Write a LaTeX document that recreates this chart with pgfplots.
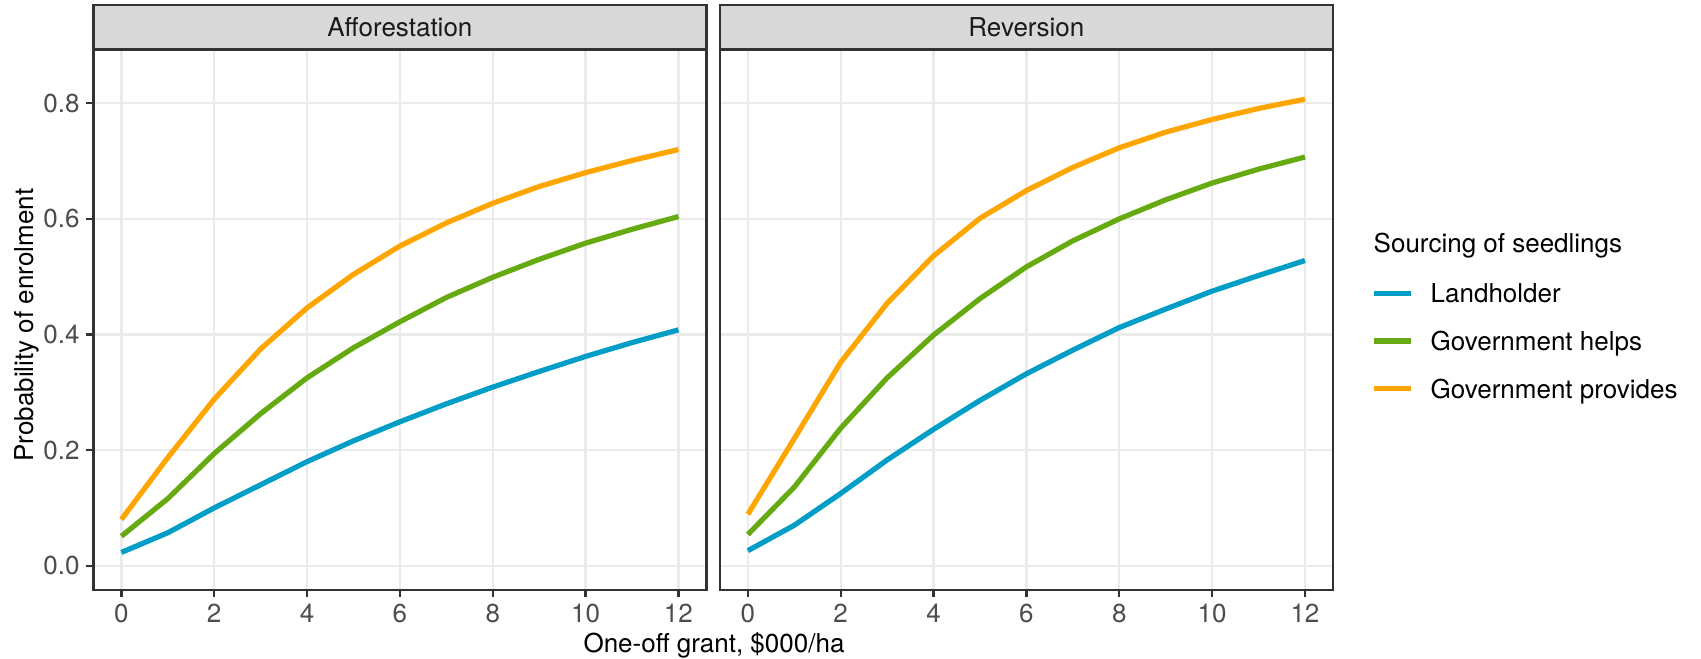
\documentclass[border=0pt]{standalone}
\usepackage{fontspec}
\setmainfont{TeX Gyre Heros}
\usepackage{pgfplots}
\usepackage{pgfplotstable}
\pgfplotsset{compat=1.18}
\definecolor{cland}{RGB}{0,158,198}
\definecolor{chelp}{RGB}{102,170,17}
\definecolor{cprov}{RGB}{255,165,0}
\definecolor{gridc}{HTML}{EBEBEB}
\definecolor{framec}{HTML}{333333}
\definecolor{tickc}{HTML}{4D4D4D}
\definecolor{stripc}{HTML}{D9D9D9}
\definecolor{titlec}{HTML}{1A1A1A}
\newcommand\basefont{\fontsize{13}{15.6}\selectfont}
\newcommand\stripfont{\fontsize{13}{15.6}\selectfont}

\pgfplotstableread{
x land help prov
0 0.023 0.051 0.080
1 0.057 0.116 0.187
2 0.100 0.194 0.288
3 0.140 0.263 0.375
4 0.180 0.325 0.446
5 0.216 0.377 0.504
6 0.249 0.422 0.553
7 0.280 0.464 0.593
8 0.309 0.499 0.627
9 0.336 0.530 0.656
10 0.362 0.558 0.680
11 0.386 0.582 0.701
12 0.408 0.604 0.720
}\afforest

\pgfplotstableread{
x land help prov
0 0.026 0.054 0.089
1 0.070 0.136 0.220
2 0.125 0.238 0.352
3 0.183 0.325 0.454
4 0.236 0.399 0.536
5 0.286 0.462 0.601
6 0.332 0.517 0.649
7 0.373 0.562 0.689
8 0.412 0.600 0.723
9 0.444 0.633 0.750
10 0.475 0.662 0.772
11 0.502 0.686 0.791
12 0.528 0.707 0.807
}\reversion

\pgfplotsset{
  panel/.style={
    scale only axis, width=306.4pt, height=270.25pt,
    xmin=-0.6, xmax=12.6, ymin=-0.042, ymax=0.893,
    xtick={0,2,4,6,8,10,12}, ytick={0,0.2,0.4,0.6,0.8},
    grid=major, major grid style={gridc, line width=1.2pt},
    axis line style={framec, line width=1.2pt},
    tick align=outside, xtick pos=bottom, ytick pos=left,
    major tick length=3.5pt,
    tick style={framec, line width=1.2pt},
    /pgf/number format/assume math mode=true,
    ticklabel style={font=\basefont, text=tickc},
    xticklabel style={inner sep=0pt, anchor=north, yshift=-3.17pt},
    yticklabel style={inner sep=0pt, anchor=east, xshift=-3.25pt,
      /pgf/number format/.cd, fixed, fixed zerofill, precision=1},
    every axis plot/.append style={line width=2.6pt, line join=round},
  }
}

\begin{document}
\begin{tikzpicture}
\path[use as bounding box] (0,0) rectangle (850.5pt,329pt);

\begin{axis}[panel, name=A, at={(46.75pt,34pt)}, anchor=south west,
  ylabel={Probability of enrolment},
  every axis y label/.style={at={(axis description cs:-0.109,0.49)}, rotate=90, anchor=center, font=\basefont, text=black}]
  \addplot[cland] table[x=x, y=land] {\afforest};
  \addplot[chelp] table[x=x, y=help] {\afforest};
  \addplot[cprov] table[x=x, y=prov] {\afforest};
\end{axis}

\begin{axis}[panel, name=B, at={(360pt,34pt)}, anchor=south west,
  yticklabels={}, ytick style={draw=none},
  legend style={draw=none, fill=none, at={(axis description cs:1.0636,0.5719)}, anchor=north west,
    inner sep=0pt, outer sep=0pt, row sep=11.2pt, column sep=8.5pt,
    nodes={inner sep=0pt, text height=11pt, text depth=1.6pt, font=\basefont, text=black}},
  legend cell align=left,
  legend image code/.code={\draw[#1] (0pt,0pt) -- (18.35pt,0pt);}]
  \addplot[cland] table[x=x, y=land] {\reversion};
  \addlegendentry{Landholder}
  \addplot[chelp] table[x=x, y=help] {\reversion};
  \addlegendentry{Government helps}
  \addplot[cprov] table[x=x, y=prov] {\reversion};
  \addlegendentry{Government provides}
\end{axis}

\foreach \ax/\lab in {A/Afforestation, B/Reversion}{
  \draw[framec, line width=1.2pt, fill=stripc] (\ax.north west) rectangle ([yshift=22.25pt]\ax.north east);
  \node[anchor=base, inner sep=0pt, font=\stripfont, text=titlec] at ([yshift=6.4pt]\ax.north) {\lab};
}

\node[anchor=base, inner sep=0pt, font=\basefont] at (357pt,2.5pt) {One-off grant, \$000/ha};
\node[anchor=base west, inner sep=0pt, font=\basefont] at (686.65pt,202.5pt) {Sourcing of seedlings};
\end{tikzpicture}
\end{document}
